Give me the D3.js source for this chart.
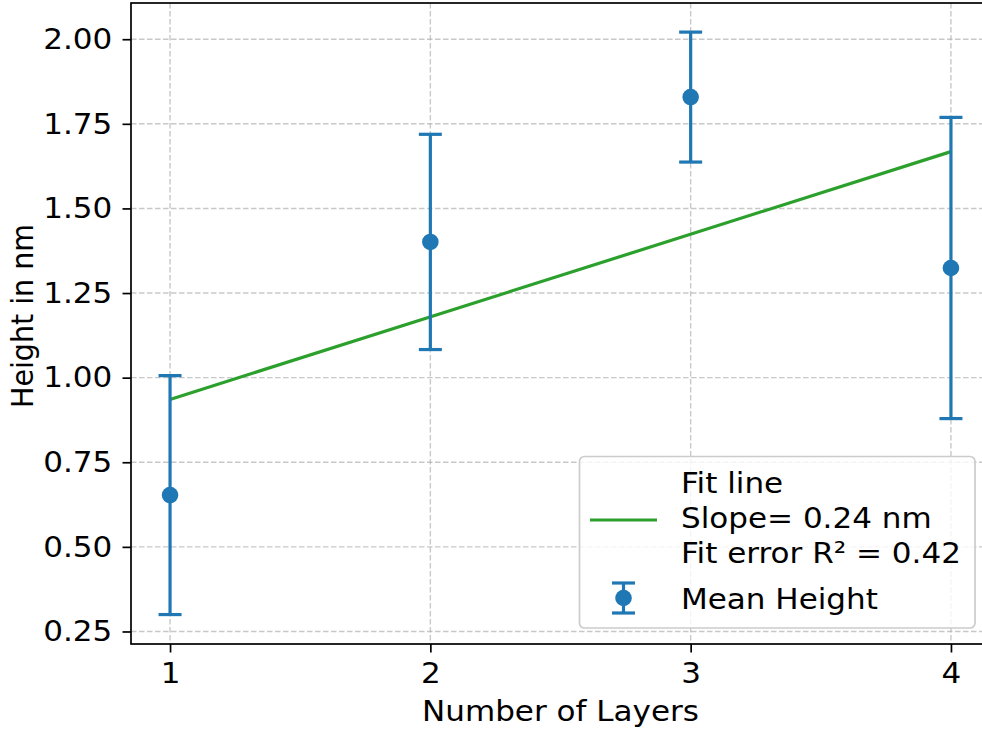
<!DOCTYPE html>
<html>
<head>
<meta charset="utf-8">
<script src="https://cdn.jsdelivr.net/npm/d3@7"></script>
<style>
  html, body { margin: 0; padding: 0; background: #fff; }
  svg { display: block; font-family: "DejaVu Sans", sans-serif; }
</style>
</head>
<body>
<svg id="chart" width="982" height="730"></svg>
<script>
// Mean layer height per layer count, with symmetric error (std) per point
const layers = [1, 2, 3, 4];
const meanHeight = [0.653, 1.401, 1.829, 1.324];
const heightErr = [0.353, 0.318, 0.192, 0.445];
const xTicks = [1, 2, 3, 4];
const yTicks = [0.25, 0.50, 0.75, 1.00, 1.25, 1.50, 1.75, 2.00];
const legendFitLines = ["Fit line", "Slope= 0.24 nm", "Fit error R\u00b2 = 0.42"];
const legendMeanLabel = "Mean Height";

const blue = "#1f77b4", green = "#2ca02c";
const FS = 29;          // text size
const WIDEN = 1.07;     // horizontal widening of glyphs
const svg = d3.select("#chart");
const plot = { left: 131, right: 990, top: 3, bottom: 644 };

const x = d3.scaleLinear().domain([0.85, 4.15]).range([plot.left, plot.right]);
const y = d3.scaleLinear().domain([0.213, 2.107]).range([plot.bottom, plot.top]);

// Least-squares fit through the mean heights
const mx = d3.mean(layers), my = d3.mean(meanHeight);
const slope = d3.sum(layers, (v, i) => (v - mx) * (meanHeight[i] - my)) /
              d3.sum(layers, v => (v - mx) * (v - mx));
const intercept = my - slope * mx;
const fitPts = [layers[0], layers[layers.length - 1]].map(v => [v, intercept + slope * v]);

// Horizontal text placed at (px, py) with widened glyphs
function htext(sel, px, py, str, anchor) {
  return sel.append("text")
    .attr("transform", `translate(${px},${py}) scale(${WIDEN},1)`)
    .attr("text-anchor", anchor || "start")
    .attr("font-size", FS).attr("fill", "#000").text(str);
}

// Grid
const grid = svg.append("g").attr("stroke", "#b0b0b0").attr("stroke-opacity", 0.7)
  .attr("stroke-width", 1.4).attr("stroke-dasharray", "5.5,2.5");
grid.selectAll(".gx").data(xTicks).join("line")
  .attr("x1", d => x(d)).attr("x2", d => x(d)).attr("y1", plot.top).attr("y2", plot.bottom);
grid.selectAll(".gy").data(yTicks).join("line")
  .attr("y1", d => y(d)).attr("y2", d => y(d)).attr("x1", plot.left).attr("x2", plot.right);

// Axes
const xAxis = svg.append("g").attr("transform", `translate(0,${plot.bottom})`)
  .call(d3.axisBottom(x).tickValues(xTicks).tickFormat(d3.format("d")).tickSize(8.5).tickPadding(10));
const yAxis = svg.append("g").attr("transform", `translate(${plot.left},0)`)
  .call(d3.axisLeft(y).tickValues(yTicks).tickFormat(d3.format(".2f")).tickSize(8.5).tickPadding(9));
[xAxis, yAxis].forEach(a => {
  a.select(".domain").remove();
  a.selectAll("line").attr("stroke", "#000").attr("stroke-width", 1.7);
  a.selectAll("text").attr("fill", "#000").attr("font-size", FS)
    .attr("font-family", "DejaVu Sans").attr("transform", `scale(${WIDEN},1)`);
});

// Spines
svg.append("rect").attr("x", plot.left).attr("y", plot.top)
  .attr("width", plot.right - plot.left).attr("height", plot.bottom - plot.top)
  .attr("fill", "none").attr("stroke", "#000").attr("stroke-width", 1.7);

// Fit line
const line = d3.line().x(d => x(d[0])).y(d => y(d[1]));
svg.append("path").datum(fitPts).attr("d", line)
  .attr("fill", "none").attr("stroke", green).attr("stroke-width", 3.2);

// Error bars
const eb = svg.append("g").attr("stroke", blue).attr("stroke-width", 3.2);
layers.forEach((L, i) => {
  const lo = meanHeight[i] - heightErr[i], hi = meanHeight[i] + heightErr[i];
  eb.append("line").attr("x1", x(L)).attr("x2", x(L)).attr("y1", y(lo)).attr("y2", y(hi));
  [lo, hi].forEach(v => eb.append("line")
    .attr("x1", x(L) - 11.5).attr("x2", x(L) + 11.5).attr("y1", y(v)).attr("y2", y(v)));
});
svg.append("g").selectAll("circle").data(layers).join("circle")
  .attr("cx", d => x(d)).attr("cy", (d, i) => y(meanHeight[i])).attr("r", 8.3).attr("fill", blue);

// Axis labels
htext(svg, 560.5, 721, "Number of Layers", "middle");
svg.append("text").attr("transform", `translate(32.5,316) scale(${WIDEN},1) rotate(-90)`)
  .attr("text-anchor", "middle").attr("font-size", 28.5).text("Height in nm");

// Legend
const lg = svg.append("g");
lg.append("rect").attr("x", 579.5).attr("y", 456.5).attr("width", 395.5).attr("height", 171.5)
  .attr("rx", 5).attr("fill", "#fff").attr("fill-opacity", 0.8)
  .attr("stroke", "#cccccc").attr("stroke-width", 1.7);
lg.append("line").attr("x1", 590).attr("x2", 657).attr("y1", 520).attr("y2", 520)
  .attr("stroke", green).attr("stroke-width", 3.2);
legendFitLines.forEach((s, i) => htext(lg, 681, 493.3 + i * 35, s));
const mk = lg.append("g").attr("stroke", blue).attr("stroke-width", 3.2);
mk.append("line").attr("x1", 623.5).attr("x2", 623.5).attr("y1", 583).attr("y2", 613);
mk.append("line").attr("x1", 612).attr("x2", 635).attr("y1", 583).attr("y2", 583);
mk.append("line").attr("x1", 612).attr("x2", 635).attr("y1", 613).attr("y2", 613);
lg.append("circle").attr("cx", 623.5).attr("cy", 598).attr("r", 8.3).attr("fill", blue);
htext(lg, 681, 609, legendMeanLabel);
</script>
</body>
</html>
